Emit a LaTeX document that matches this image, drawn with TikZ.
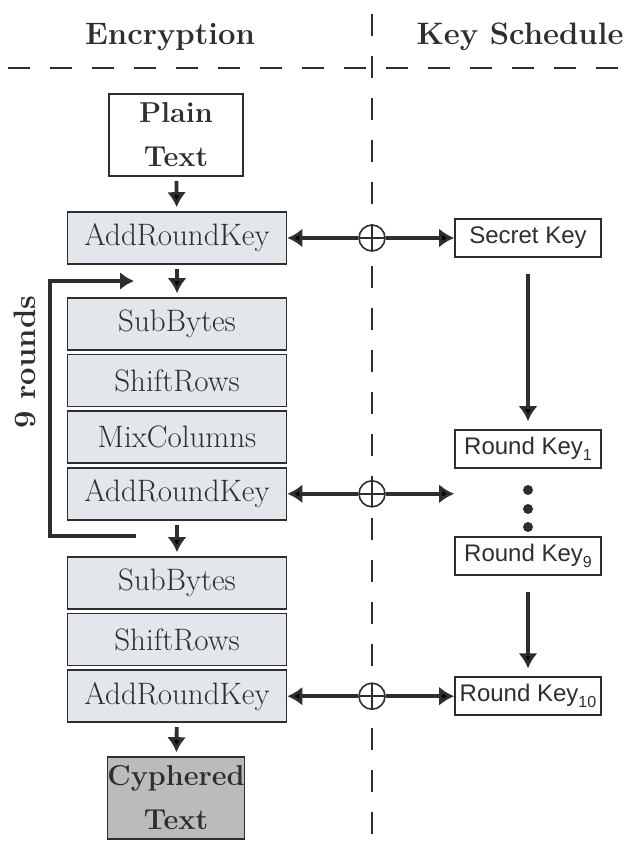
\documentclass[tikz,border=0pt]{standalone}
\usepackage{fontspec}
\newfontfamily\keyfont{Liberation Sans}
\usetikzlibrary{positioning,arrows.meta}
\definecolor{boxfill}{HTML}{E3E6EB}
\definecolor{outfill}{HTML}{BBBBBB}
\definecolor{ink}{HTML}{2E2E2E}
\newcommand{\keyidx}[1]{\raisebox{-3pt}{\footnotesize#1}}
\tikzset{
  head/.style={font=\fontsize{15.5}{18}\selectfont\bfseries, text=ink},
  op box/.style={draw=ink,thick,fill=boxfill,minimum width=109.5pt,minimum height=26pt,inner sep=0pt,font=\fontsize{15.5}{18}\selectfont,text=ink},
  io box/.style={draw=ink,thick,minimum width=67pt,minimum height=41pt,inner sep=0pt,align=center,font=\Large\bfseries,text=ink},
  key box/.style={draw=ink,thick,fill=white,minimum width=73pt,minimum height=19pt,inner sep=0pt,font=\keyfont\large,text=ink},
  xor/.style={circle,draw=ink,thick,fill=white,minimum size=13pt,inner sep=0pt,
    path picture={\draw[ink,thick] (path picture bounding box.north) -- (path picture bounding box.south)
      (path picture bounding box.west) -- (path picture bounding box.east);}},
  flow/.style={draw=ink,line width=1.9pt,-{Latex[length=7.5pt,width=9.5pt]}},
  divider/.style={draw=ink,semithick,dash pattern=on 11pt off 10pt},
  dot/.style={circle,fill=ink,minimum size=5pt,inner sep=0pt},
}
\begin{document}
\begin{tikzpicture}[x=0.5pt,y=-0.5pt]
\useasboundingbox (0,0) rectangle (633,852);

% titles and separators
\node[head] (enc) at (170,37) {Encryption};
\node[head] (ksch) at (520,37) {Key Schedule};
\draw[divider] (8,68) -- (633,68);
\draw[divider] (372,14) -- (372,852);

% encryption column
\node[io box] (plain) at (176,135) {Plain\\[4pt]Text};
\node[op box] (ark0) at (177,238) {AddRoundKey};
\node[op box] (sb) at (177,324) {SubBytes};
\node[op box, below=1.5pt of sb] (sr) {ShiftRows};
\node[op box, below=1.5pt of sr] (mc) {MixColumns};
\node[op box, below=1.5pt of mc] (ark) {AddRoundKey};
\node[op box] (sbl) at (177,583) {SubBytes};
\node[op box, below=1.5pt of sbl] (srl) {ShiftRows};
\node[op box, below=1.5pt of srl] (arkl) {AddRoundKey};
\node[io box, fill=outfill] (ciph) at (176,798) {Cyphered\\[4pt]Text};

\path[flow,shorten <=2pt,shorten >=2pt]
  (plain) edge (ark0)
  (ark0) edge (sb)
  (ark) edge (sbl)
  (arkl) edge (ciph)
  ;

% round loop
\coordinate (lpa) at (136,536);
\coordinate (lpb) at (50,536);
\coordinate (lpc) at (50,281);
\coordinate (lpd) at (134,281);
\draw[draw=ink,line width=2.3pt,-{Latex[length=7pt,width=9pt]}] (lpa) -- (lpb) -- (lpc) -- (lpd);
\node[head, rotate=90] (nine) at (25,362) {9 rounds};

% xor with the round keys
\node[xor] (x0) at (ark0 -| 372,0) {};
\node[xor] (x1) at (ark -| 372,0) {};
\node[xor] (x2) at (arkl -| 372,0) {};

% key schedule column
\node[key box] (sk) at (528,238) {Secret Key};
\node[key box] (rk1) at (528,449) {Round Key\keyidx{1}};
\node[key box] (rk9) at (528,556) {Round Key\keyidx{9}};
\node[key box] (rk10) at (x2 -| 528,0) {Round Key\keyidx{10}};
\node[dot] (dta) at (528,490) {};
\node[dot] (dtb) at (528,509) {};
\node[dot] (dtc) at (528,527) {};
\coordinate (x1end) at (rk1.west |- x1);

\path[flow]
  (x0) edge (ark0)
  (x0) edge (sk)
  (x1) edge (ark)
  (x1) edge (x1end)
  (x2) edge (arkl)
  (x2) edge (rk10)
  ;
\path[flow,shorten <=8pt,shorten >=4pt]
  (sk) edge (rk1)
  (rk9) edge (rk10)
  ;
\end{tikzpicture}
\end{document}
